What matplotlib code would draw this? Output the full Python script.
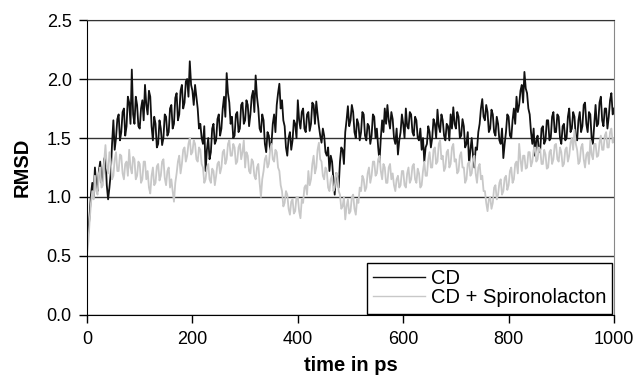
import numpy as np
import matplotlib
matplotlib.use('Agg')
import matplotlib.pyplot as plt

plt.rcParams['font.family'] = ['Liberation Sans', 'DejaVu Sans']

# time axis, 2.5 ps steps
time_ps = np.arange(0, 1000.1, 2.5)

# RMSD of CD alone
rmsd_cd = [
    0.62, 0.70, 0.85, 1.02, 1.12, 1.00, 1.25, 1.10, 1.05, 1.22, 1.30, 1.12, 1.15, 1.32, 1.35, 1.10, 0.98, 1.08, 1.20, 1.45,
    1.65, 1.40, 1.50, 1.66, 1.70, 1.48, 1.55, 1.72, 1.75, 1.52, 1.60, 1.85, 1.80, 1.62, 2.08, 1.70, 1.62, 1.85, 1.78, 1.60,
    1.58, 1.75, 1.82, 1.65, 1.95, 1.78, 1.70, 1.90, 1.85, 1.60, 1.48, 1.68, 1.62, 1.42, 1.45, 1.65, 1.58, 1.44, 1.50, 1.70,
    1.68, 1.52, 1.55, 1.75, 1.78, 1.58, 1.62, 1.84, 1.88, 1.65, 1.70, 1.90, 1.95, 1.75, 1.80, 1.98, 2.00, 1.85, 2.15, 1.95,
    1.90, 1.78, 1.95, 1.85, 1.75, 1.58, 1.62, 1.50, 1.45, 1.60, 1.22, 1.40, 1.50, 1.32, 1.38, 1.58, 1.62, 1.45, 1.48, 1.66,
    1.70, 1.52, 1.58, 1.75, 1.85, 1.68, 2.05, 1.88, 1.80, 1.62, 1.68, 1.50, 1.52, 1.70, 1.72, 1.55, 1.58, 1.78, 1.80, 1.62,
    1.65, 1.82, 1.78, 1.60, 1.70, 1.85, 1.90, 1.72, 2.03, 1.85, 1.75, 1.58, 1.55, 1.70, 1.65, 1.45, 1.38, 1.55, 1.52, 1.40,
    1.45, 1.62, 1.70, 1.55, 1.78, 1.88, 1.96, 1.75, 1.82, 1.65, 1.60, 1.42, 1.35, 1.50, 1.55, 1.40, 1.48, 1.65, 1.62, 1.50,
    1.82, 1.65, 1.58, 1.72, 1.75, 1.58, 1.55, 1.70, 1.72, 1.56, 1.62, 1.80, 1.78, 1.62, 1.81, 1.70, 1.60, 1.52, 1.46, 1.58,
    1.52, 1.38, 1.35, 1.42, 1.22, 1.35, 1.30, 1.15, 1.02, 1.20, 1.18, 1.08, 1.30, 1.42, 1.40, 1.28, 1.55, 1.65, 1.77, 1.60,
    1.65, 1.78, 1.72, 1.55, 1.50, 1.66, 1.62, 1.48, 1.55, 1.72, 1.70, 1.52, 1.48, 1.62, 1.60, 1.45, 1.52, 1.70, 1.68, 1.50,
    1.58, 1.42, 1.30, 1.50, 1.65, 1.55, 1.75, 1.62, 1.78, 1.65, 1.58, 1.72, 1.66, 1.50, 1.45, 1.58, 1.36, 1.48, 1.55, 1.70,
    1.62, 1.50, 1.75, 1.60, 1.58, 1.72, 1.70, 1.55, 1.52, 1.68, 1.65, 1.50, 1.48, 1.58, 1.40, 1.50, 1.30, 1.42, 1.45, 1.60,
    1.55, 1.42, 1.50, 1.66, 1.62, 1.50, 1.74, 1.60, 1.55, 1.70, 1.65, 1.52, 1.48, 1.62, 1.60, 1.48, 1.70, 1.58, 1.76, 1.62,
    1.58, 1.72, 1.68, 1.50, 1.52, 1.66, 1.60, 1.42, 1.45, 1.55, 1.28, 1.40, 1.50, 1.35, 1.25, 1.42, 1.40, 1.55, 1.62, 1.75,
    1.83, 1.68, 1.65, 1.78, 1.72, 1.55, 1.58, 1.74, 1.70, 1.55, 1.52, 1.68, 1.62, 1.48, 1.45, 1.58, 1.33, 1.45, 1.55, 1.70,
    1.68, 1.52, 1.50, 1.65, 1.75, 1.62, 1.85, 1.72, 1.78, 1.90, 1.95, 1.80, 2.06, 1.92, 1.88, 1.75, 1.70, 1.55, 1.45, 1.58,
    1.35, 1.48, 1.52, 1.38, 1.40, 1.58, 1.60, 1.45, 1.48, 1.65, 1.65, 1.48, 1.50, 1.68, 1.72, 1.55, 1.55, 1.70, 1.68, 1.50,
    1.45, 1.60, 1.62, 1.48, 1.50, 1.68, 1.75, 1.55, 1.58, 1.72, 1.68, 1.50, 1.48, 1.65, 1.72, 1.55, 1.60, 1.78, 1.80, 1.62,
    1.55, 1.72, 1.70, 1.50, 1.45, 1.62, 1.78, 1.60, 1.62, 1.80, 1.85, 1.65, 1.60, 1.75, 1.75, 1.58, 1.68, 1.82, 1.88, 1.70,
    1.75,
]

# RMSD of CD + Spironolacton
rmsd_cd_spiro = [
    0.52, 0.62, 0.80, 0.95, 1.05, 0.98, 1.18, 1.05, 1.02, 1.20, 1.25, 1.08, 1.10, 1.30, 1.44, 1.25, 1.20, 1.38, 1.30, 1.15,
    1.18, 1.32, 1.38, 1.22, 1.22, 1.36, 1.35, 1.20, 1.15, 1.28, 1.30, 1.18, 1.40, 1.25, 1.20, 1.34, 1.32, 1.15, 1.18, 1.30,
    1.28, 1.12, 1.15, 1.30, 1.30, 1.15, 1.22, 1.08, 1.03, 1.18, 1.25, 1.10, 1.12, 1.26, 1.28, 1.14, 1.18, 1.30, 1.32, 1.16,
    1.10, 1.22, 1.25, 1.08, 1.15, 1.05, 0.96, 1.12, 1.20, 1.30, 1.35, 1.20, 1.28, 1.40, 1.42, 1.30, 1.35, 1.45, 1.50, 1.36,
    1.38, 1.48, 1.45, 1.32, 1.30, 1.42, 1.40, 1.28, 1.25, 1.12, 1.15, 1.25, 1.28, 1.15, 1.12, 1.24, 1.22, 1.10, 1.18, 1.28,
    1.30, 1.20, 1.25, 1.38, 1.40, 1.28, 1.32, 1.45, 1.48, 1.35, 1.35, 1.45, 1.42, 1.28, 1.30, 1.42, 1.45, 1.32, 1.38, 1.48,
    1.25, 1.38, 1.35, 1.22, 1.20, 1.32, 1.30, 1.18, 1.15, 1.25, 1.28, 1.12, 1.00, 1.15, 1.22, 1.32, 1.35, 1.25, 1.28, 1.40,
    1.45, 1.32, 1.30, 1.40, 1.38, 1.25, 1.22, 1.10, 1.05, 0.92, 0.95, 1.05, 1.02, 0.90, 0.85, 0.96, 0.98, 0.86, 0.88, 1.00,
    1.00, 0.88, 0.82, 0.98, 0.95, 1.08, 1.10, 1.02, 1.22, 1.10, 1.15, 1.28, 1.35, 1.20, 1.25, 1.40, 1.46, 1.32, 1.30, 1.18,
    1.15, 1.25, 1.22, 1.08, 1.05, 1.15, 1.18, 1.05, 1.08, 1.20, 1.20, 1.05, 1.02, 0.90, 0.92, 1.00, 0.81, 0.92, 0.98, 0.86,
    0.88, 1.00, 1.02, 0.90, 0.85, 0.98, 0.95, 1.08, 1.05, 1.18, 1.15, 1.05, 1.08, 1.20, 1.25, 1.12, 1.18, 1.30, 1.30, 1.18,
    1.20, 1.32, 1.35, 1.22, 1.15, 1.28, 1.25, 1.12, 1.12, 1.25, 1.28, 1.15, 1.20, 1.10, 1.05, 1.15, 1.18, 1.08, 1.10, 1.22,
    1.22, 1.10, 1.08, 1.20, 1.25, 1.12, 1.15, 1.26, 1.28, 1.15, 1.12, 1.24, 1.20, 1.08, 1.10, 1.22, 1.30, 1.18, 1.18, 1.32,
    1.38, 1.25, 1.25, 1.40, 1.42, 1.28, 1.30, 1.45, 1.48, 1.32, 1.35, 1.22, 1.25, 1.38, 1.40, 1.25, 1.28, 1.42, 1.45, 1.30,
    1.32, 1.20, 1.22, 1.35, 1.38, 1.25, 1.25, 1.12, 1.15, 1.28, 1.30, 1.18, 1.20, 1.32, 1.35, 1.20, 1.12, 1.25, 1.28, 1.15,
    1.18, 1.05, 1.05, 0.95, 0.88, 0.98, 1.00, 0.90, 0.95, 1.08, 1.10, 0.98, 1.02, 1.12, 1.15, 1.02, 1.05, 1.16, 1.18, 1.06,
    1.10, 1.22, 1.25, 1.12, 1.15, 1.28, 1.30, 1.20, 1.45, 1.32, 1.22, 1.35, 1.35, 1.24, 1.25, 1.38, 1.38, 1.26, 1.30, 1.40,
    1.42, 1.30, 1.32, 1.42, 1.40, 1.28, 1.28, 1.40, 1.36, 1.24, 1.25, 1.38, 1.40, 1.28, 1.32, 1.44, 1.45, 1.32, 1.30, 1.42,
    1.38, 1.26, 1.28, 1.40, 1.42, 1.30, 1.35, 1.46, 1.50, 1.40, 1.57, 1.45, 1.40, 1.28, 1.30, 1.42, 1.45, 1.32, 1.25, 1.36,
    1.38, 1.28, 1.48, 1.36, 1.32, 1.45, 1.45, 1.34, 1.35, 1.46, 1.52, 1.40, 1.40, 1.52, 1.55, 1.42, 1.42, 1.55, 1.58, 1.46,
    1.50,
]

x_ticks = [0, 200, 400, 600, 800, 1000]
y_ticks = [0.0, 0.5, 1.0, 1.5, 2.0, 2.5]

fig = plt.figure(figsize=(6.38, 3.79), dpi=100)
ax = fig.add_axes([0.1364, 0.1689, 0.8260, 0.7783])

ax.plot(time_ps, rmsd_cd, color='#111111', lw=1.3, label='CD')
ax.plot(time_ps, rmsd_cd_spiro, color='#c8c8c8', lw=1.3, label='CD + Spironolacton')

ax.set_xlim(0, 1000)
ax.set_ylim(0, 2.5)
ax.set_xticks(x_ticks)
ax.set_yticks(y_ticks)
ax.set_yticklabels(['%.1f' % v for v in y_ticks])
ax.yaxis.grid(True, color='#333333', lw=1.0)
ax.set_axisbelow(True)

ax.spines['left'].set_color('black')
ax.spines['bottom'].set_color('black')
ax.spines['top'].set_color('#333333')
ax.spines['right'].set_color('#888888')
ax.spines['right'].set_linewidth(0.8)
ax.tick_params(direction='out', length=6, width=1, labelsize=13, colors='black')
ax.tick_params(axis='y', pad=5)
ax.tick_params(axis='x', pad=5.5)

ax.set_xlabel('time in ps', fontsize=14.5, fontweight='bold', labelpad=6)
ax.set_ylabel('RMSD', fontsize=14.5, fontweight='bold', labelpad=11)

leg = ax.legend(loc='lower right', bbox_to_anchor=(0.997, 0.005), fontsize=14.5,
                frameon=True, fancybox=False, edgecolor='black', framealpha=1,
                handlelength=2.6, handletextpad=0.3, borderpad=0.3, labelspacing=0.0,
                borderaxespad=0)
leg.get_frame().set_linewidth(1.0)
for line in leg.get_lines():
    line.set_linewidth(1.0)

fig.savefig('out.png', dpi=100)
